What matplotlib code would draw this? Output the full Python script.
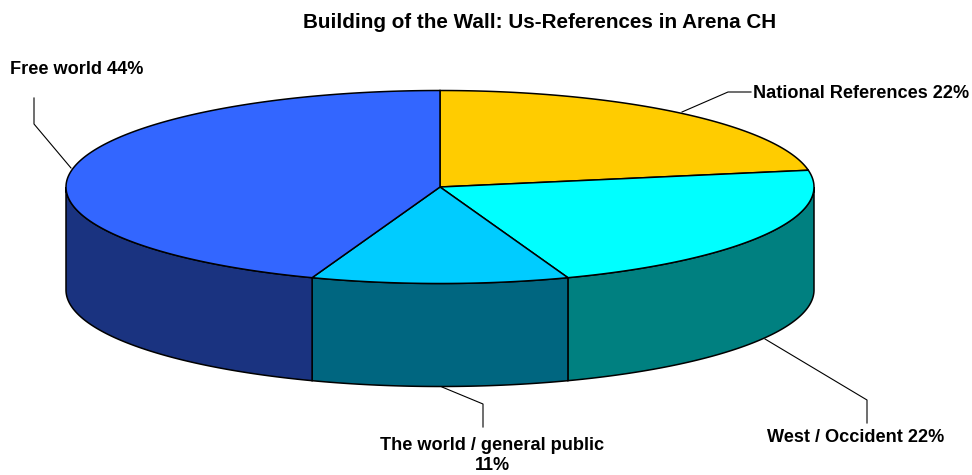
import numpy as np
import matplotlib
matplotlib.use("Agg")
import matplotlib.pyplot as plt
from matplotlib.patches import Polygon

plt.rcParams['font.family'] = ['Liberation Sans', 'DejaVu Sans']

labels = ["National References 22%", "West / Occident 22%", "The world / general public\n11%", "Free world 44%"]
values = [22, 22, 11, 44]
top_colors = ["#FFCC00", "#00FFFF", "#00CCFF", "#3366FF"]
side_colors = ["#806600", "#008080", "#006680", "#1A3380"]

# ellipse geometry, in pixels of the picture
cx, cy, rx, ry, depth = 440, 187, 374, 96.5, 103

label_pos = [(861, 94), (856, 438), (492.5, 455.5), (76.5, 70)]
leaders = [
    [(682, 112), (728, 92), (751, 92)],
    [(765, 339), (867, 400), (867, 423)],
    [(442, 387), (483, 404), (483, 427)],
    [(71, 168), (34, 124), (34, 98)],
]


def rim(t, dy=0):
    return cx + rx * np.sin(t), cy - ry * np.cos(t) + dy


fig = plt.figure(figsize=(9.72, 4.75), dpi=100)
ax = fig.add_axes([0, 0, 1, 1])
ax.set_xlim(0, 972)
ax.set_ylim(475, 0)
ax.axis("off")

edges = np.cumsum([0] + values) / sum(values) * 2 * np.pi

# side wall first, only the front half of the rim shows
for i in range(len(values)):
    a = max(edges[i], np.pi / 2)
    b = min(edges[i + 1], 3 * np.pi / 2)
    if b <= a:
        continue
    t = np.linspace(a, b, 120)
    xs, ys = rim(t)
    xb, yb = rim(t[::-1], depth)
    pts = np.column_stack([np.r_[xs, xb], np.r_[ys, yb]])
    ax.add_patch(Polygon(pts, closed=True, fc=side_colors[i], ec="black", lw=1.1))

# top of the pie
for i in range(len(values)):
    t = np.linspace(edges[i], edges[i + 1], 200)
    xs, ys = rim(t)
    pts = np.column_stack([np.r_[cx, xs], np.r_[cy, ys]])
    ax.add_patch(Polygon(pts, closed=True, fc=top_colors[i], ec="black", lw=1.1))

for line in leaders:
    ax.plot([p[0] for p in line], [p[1] for p in line], color="black", lw=0.8)

for lab, (x, y) in zip(labels, label_pos):
    ax.text(x, y, lab, ha="center", va="center", fontsize=13.1, fontweight="bold",
            linespacing=1.3)

ax.text(539.5, 22, "Building of the Wall: Us-References in Arena CH", ha="center", va="center",
        fontsize=14.9, fontweight="bold")

fig.savefig("out.png", dpi=100)
